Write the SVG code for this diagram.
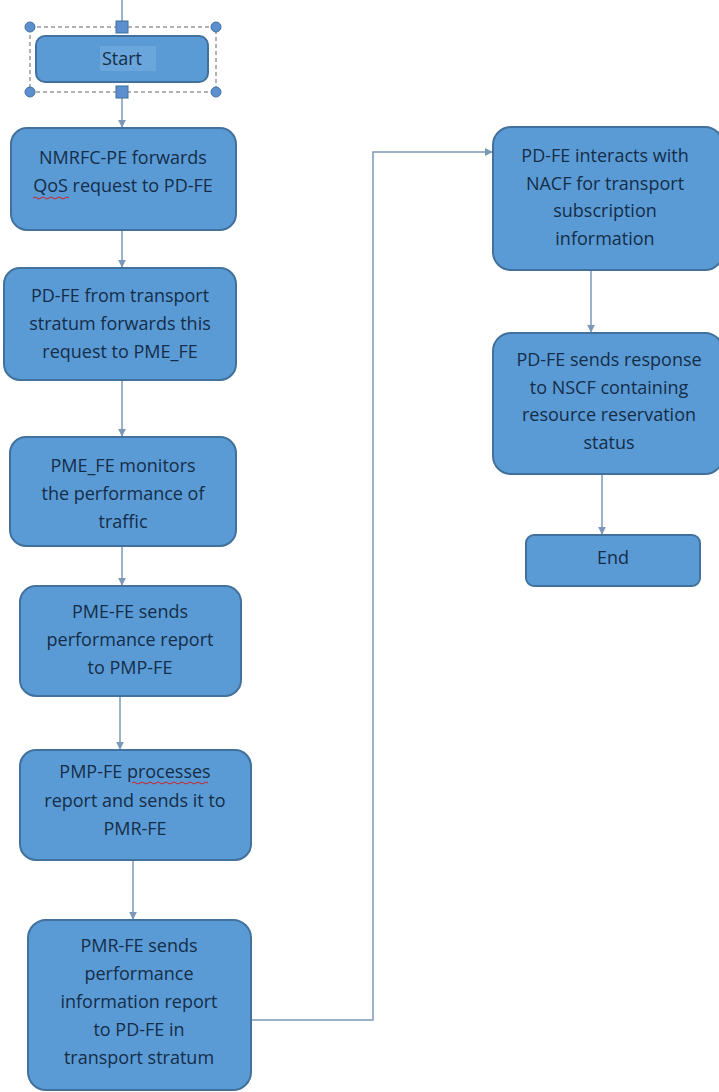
<svg xmlns="http://www.w3.org/2000/svg" width="719" height="1092" viewBox="0 0 719 1092">
<style>
.box{fill:#5b9bd5;stroke:#41719c;stroke-width:2}
.t{font-family:"Open Sans",sans-serif;font-size:18px;fill:#142d48;text-anchor:middle}
.c{fill:none;stroke:#7b98b8;stroke-width:1.5}
.sel{fill:none;stroke:#666;stroke-width:1;stroke-dasharray:4 3}
.h{fill:#5b8fcf;stroke:#41719c;stroke-width:1}
</style>
<defs>
<marker id="a" viewBox="0 0 10 10" refX="9" refY="5" markerWidth="8" markerHeight="8" markerUnits="userSpaceOnUse" orient="auto">
<path d="M0,0 L10,5 L0,10 z" fill="#7b98b8"/>
</marker>
</defs>
<rect width="719" height="1092" fill="#ffffff"/>
<g id="connectors">
<line class="c" x1="122" y1="0" x2="122" y2="27"/>
<line class="c" x1="122" y1="92" x2="122" y2="127" marker-end="url(#a)"/>
<line class="c" x1="122" y1="230" x2="122" y2="267" marker-end="url(#a)"/>
<line class="c" x1="122" y1="380" x2="122" y2="436" marker-end="url(#a)"/>
<line class="c" x1="122" y1="546" x2="122" y2="585" marker-end="url(#a)"/>
<line class="c" x1="120" y1="696" x2="120" y2="749" marker-end="url(#a)"/>
<line class="c" x1="133" y1="860" x2="133" y2="919" marker-end="url(#a)"/>
<polyline class="c" points="251,1020 373,1020 373,152 492,152" marker-end="url(#a)"/>
<line class="c" x1="591" y1="270" x2="591" y2="332" marker-end="url(#a)"/>
<line class="c" x1="602" y1="474" x2="602" y2="534" marker-end="url(#a)"/>
</g>
<g id="start">
<rect class="box" x="36" y="36" width="172" height="46" rx="9"/>
<rect x="100" y="46" width="56" height="25" fill="#6aa6dc"/>
<text class="t" x="122" y="65">Start</text>
<rect class="sel" x="30" y="27" width="186" height="65"/>
<circle class="h" cx="30" cy="27" r="5"/>
<circle class="h" cx="216" cy="27" r="5"/>
<circle class="h" cx="30" cy="92" r="5"/>
<circle class="h" cx="216" cy="92" r="5"/>
<rect class="h" x="116" y="21" width="12" height="12"/>
<rect class="h" x="116" y="86" width="12" height="12"/>
</g>
<g id="n1">
<rect class="box" x="11" y="128" width="225" height="102" rx="16"/>
<text class="t" x="123" y="164">NMRFC-PE forwards</text>
<text class="t" x="123" y="192">QoS request to PD-FE</text>
<path d="M33,198 q2,-2 4,0 t4,0 t4,0 t4,0 t4,0 t4,0 t4,0 t4,0 t4,0" fill="none" stroke="#d02020" stroke-width="1"/>
</g>
<g id="n2">
<rect class="box" x="4" y="268" width="232" height="112" rx="16"/>
<text class="t" x="120" y="302">PD-FE from transport</text>
<text class="t" x="120" y="330">stratum forwards this</text>
<text class="t" x="120" y="358">request to PME_FE</text>
</g>
<g id="n3">
<rect class="box" x="10" y="437" width="226" height="109" rx="16"/>
<text class="t" x="123" y="472">PME_FE monitors</text>
<text class="t" x="123" y="500">the performance of</text>
<text class="t" x="123" y="528">traffic</text>
</g>
<g id="n4">
<rect class="box" x="20" y="586" width="221" height="110" rx="16"/>
<text class="t" x="130" y="618">PME-FE sends</text>
<text class="t" x="130" y="646">performance report</text>
<text class="t" x="130" y="674">to PMP-FE</text>
</g>
<g id="n5">
<rect class="box" x="20" y="750" width="231" height="110" rx="16"/>
<text class="t" x="135" y="778">PMP-FE processes</text>
<text class="t" x="135" y="807">report and sends it to</text>
<text class="t" x="135" y="835">PMR-FE</text>
<path d="M132,783 q2,-2 4,0 t4,0 t4,0 t4,0 t4,0 t4,0 t4,0 t4,0 t4,0 t4,0 t4,0 t4,0 t4,0 t4,0 t4,0 t4,0 t4,0 t4,0 t4,0" fill="none" stroke="#d02020" stroke-width="1"/>
</g>
<g id="n6">
<rect class="box" x="28" y="920" width="223" height="170" rx="18"/>
<text class="t" x="139" y="952">PMR-FE sends</text>
<text class="t" x="139" y="980">performance</text>
<text class="t" x="139" y="1008">information report</text>
<text class="t" x="139" y="1036">to PD-FE in</text>
<text class="t" x="139" y="1064">transport stratum</text>
</g>
<g id="n7">
<rect class="box" x="493" y="127" width="230" height="143" rx="18"/>
<text class="t" x="605" y="162">PD-FE interacts with</text>
<text class="t" x="605" y="190">NACF for transport</text>
<text class="t" x="605" y="217">subscription</text>
<text class="t" x="605" y="245">information</text>
</g>
<g id="n8">
<rect class="box" x="493" y="333" width="230" height="141" rx="18"/>
<text class="t" x="609" y="366">PD-FE sends response</text>
<text class="t" x="609" y="394">to NSCF containing</text>
<text class="t" x="609" y="421">resource reservation</text>
<text class="t" x="609" y="449">status</text>
</g>
<g id="end">
<rect class="box" x="526" y="535" width="174" height="51" rx="8"/>
<text class="t" x="613" y="564">End</text>
</g>
</svg>
